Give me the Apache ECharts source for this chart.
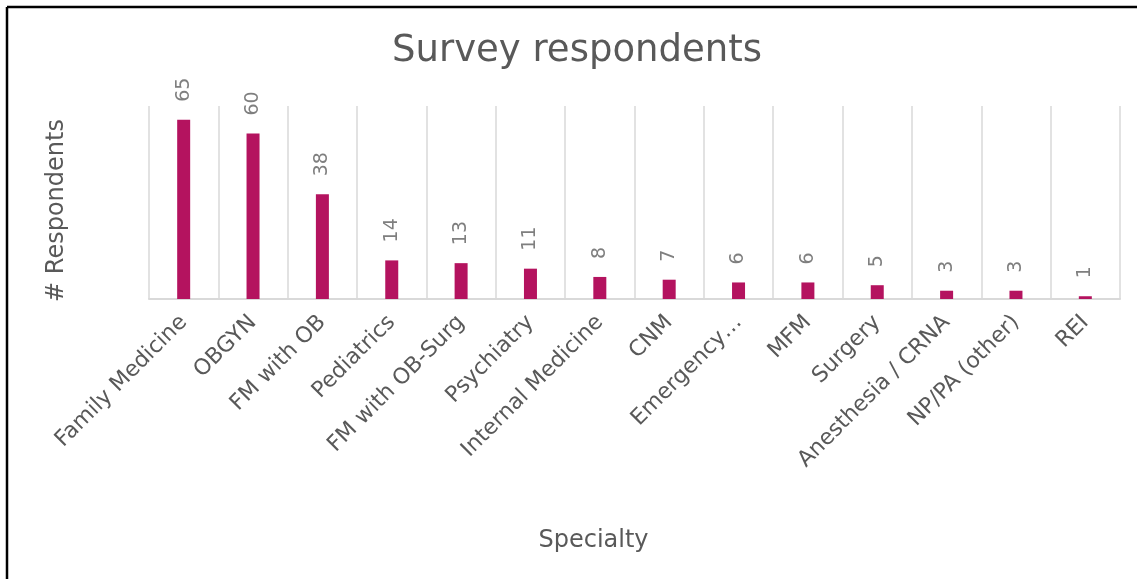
<!DOCTYPE html>
<html>
<head>
<meta charset="utf-8">
<script src="https://cdn.jsdelivr.net/npm/echarts@6/dist/echarts.min.js"></script>
<style>
html,body{margin:0;padding:0;background:#fff;}
#chart{width:1137px;height:579px;}
</style>
</head>
<body>
<div id="chart"></div>
<script>
const categories = ["Family Medicine","OBGYN","FM with OB","Pediatrics","FM with OB-Surg","Psychiatry","Internal Medicine","CNM","Emergency…","MFM","Surgery","Anesthesia / CRNA","NP/PA (other)","REI"];
const respondents = [65,60,38,14,13,11,8,7,6,6,5,3,3,1];

const FONT = "DejaVu Sans";
const GRAY = "#595959";
const chart = echarts.init(document.getElementById('chart'));
chart.setOption({
  backgroundColor: '#fff',
  animation: false,
  title: {
    text: 'Survey respondents',
    left: 387,
    top: 28,
    textStyle: {fontFamily: FONT, fontSize: 37, fontWeight: 'normal', color: GRAY}
  },
  grid: {left: 149, right: 17, top: 106, bottom: 280},
  xAxis: {
    type: 'category',
    data: categories,
    name: 'Specialty',
    nameLocation: 'middle',
    nameGap: 230,
    nameTextStyle: {fontFamily: FONT, fontSize: 24, color: GRAY, padding: [0,82,0,0]},
    axisLine: {show: true, lineStyle: {color: '#d9d9d9', width: 2}},
    axisTick: {show: false},
    axisLabel: {rotate: 45, margin: 20, fontFamily: FONT, fontSize: 22, color: GRAY, interval: 0},
    splitLine: {show: true, interval: 0, lineStyle: {color: '#d9d9d9', width: 1.5}}
  },
  yAxis: {
    type: 'value',
    min: 0, max: 70,
    name: '# Respondents',
    nameLocation: 'middle',
    nameGap: 80,
    nameTextStyle: {fontFamily: FONT, fontSize: 24, color: GRAY, padding: [0,16,0,0]},
    axisLine: {show: false},
    axisTick: {show: false},
    axisLabel: {show: false},
    splitLine: {show: false}
  },
  series: [{
    type: 'bar',
    data: respondents,
    barWidth: 13,
    itemStyle: {color: '#B4135F'},
    label: {
      show: true,
      position: 'top',
      rotate: 90,
      align: 'left',
      verticalAlign: 'middle',
      distance: 18,
      fontFamily: FONT,
      fontSize: 19,
      color: '#7f7f7f'
    }
  }],
  graphic: [
    {type: 'line', shape: {x1: 7, y1: 7, x2: 1137, y2: 7}, style: {stroke: '#000', lineWidth: 2.5}},
    {type: 'line', shape: {x1: 7, y1: 7, x2: 7, y2: 579}, style: {stroke: '#000', lineWidth: 2.5}}
  ]
});
</script>
</body>
</html>
